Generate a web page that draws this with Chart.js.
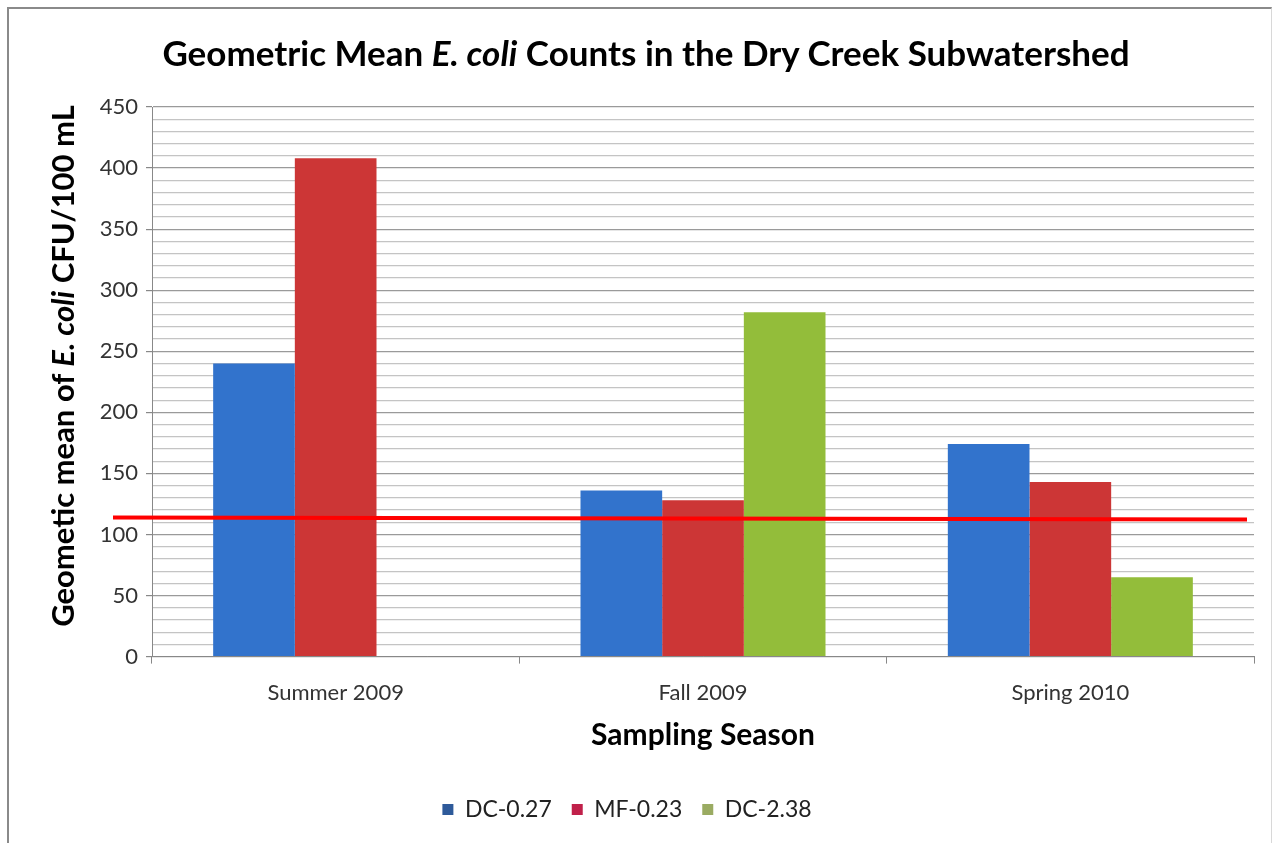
<!DOCTYPE html>
<html>
<head>
<meta charset="utf-8">
<script src="https://cdn.jsdelivr.net/npm/chart.js@4.4.1/dist/chart.umd.min.js"></script>
<style>
  html, body { margin: 0; padding: 0; background: #fff; }
  #wrap { position: relative; width: 1282px; height: 843px; overflow: hidden; background: #fff; }
  #frame { position: absolute; left: 7px; top: 7px; width: 1265px; height: 840px;
           border-left: 2px solid #8a8a8a; border-top: 2px solid #8a8a8a; border-right: 1px solid #d8d8d8; box-sizing: border-box; }
  #title { position: absolute; left: 0; width: 1292px; top: 31px; text-align: center; line-height: 1.2;
           font-family: Lato, "Open Sans", sans-serif; font-weight: bold; font-size: 35px; color: #000; white-space: nowrap; }
  #ytitle { position: absolute; left: 63px; top: 366px; transform: translate(-50%, -50%) rotate(-90deg);
           font-family: Lato, "Open Sans", sans-serif; font-weight: bold; font-size: 31px; color: #000; white-space: nowrap; line-height: 1.2; }
  canvas { position: absolute; left: 0; top: 0; }
</style>
</head>
<body>
<div id="wrap">
  <canvas id="c" width="1282" height="843"></canvas>
  <div id="frame"></div>
  <div id="title">Geometric Mean <i>E. coli</i> Counts in the Dry Creek Subwatershed</div>
  <div id="ytitle">Geometic mean of <i>E. coli</i> CFU/100 mL</div>
</div>
<script>
const categories = ["Summer 2009", "Fall 2009", "Spring 2010"];
const seriesNames = ["DC-0.27", "MF-0.23", "DC-2.38"];
const dc027 = [240, 136, 174];
const mf023 = [408, 128, 143];
const dc238 = [null, 282, 65];
const threshold = 113;
const yTickLabels = [0, 50, 100, 150, 200, 250, 300, 350, 400, 450];

const FONT = 'Lato, "Open Sans", sans-serif';

const thresholdLine = {
  id: 'thresholdLine',
  afterDatasetsDraw(chart) {
    const y = chart.scales.y;
    const area = chart.chartArea;
    const ctx = chart.ctx;
    ctx.save();
    ctx.strokeStyle = '#ff0000';
    ctx.lineWidth = 4;
    ctx.beginPath();
    ctx.moveTo(area.left - 39, y.getPixelForValue(threshold) - 1);
    ctx.lineTo(area.right - 7, y.getPixelForValue(threshold) + 1);
    ctx.stroke();
    ctx.restore();
  }
};

new Chart(document.getElementById('c'), {
  type: 'bar',
  data: {
    labels: categories,
    datasets: [
      { label: seriesNames[0], data: dc027, backgroundColor: '#3273cc', borderWidth: 0 },
      { label: seriesNames[1], data: mf023, backgroundColor: '#cc3636', borderWidth: 0 },
      { label: seriesNames[2], data: dc238, backgroundColor: '#93bd3a', borderWidth: 0 }
    ]
  },
  options: {
    responsive: false,
    animation: false,
    layout: { padding: { left: 0, right: 28, top: 107, bottom: 12 } },
    datasets: { bar: { barPercentage: 1.0, categoryPercentage: 0.667 } },
    plugins: {
      title: { display: false },
      tooltip: { enabled: false },
      legend: {
        position: 'bottom',
        labels: {
          font: { family: FONT, size: 23 },
          color: '#222',
          boxWidth: 11, boxHeight: 11, padding: 20,
          generateLabels(chart) {
            const cols = ['#2e5a9a', '#c0204a', '#9aab62'];
            return chart.data.datasets.map((d, i) => ({
              text: d.label, fillStyle: cols[i], strokeStyle: cols[i], lineWidth: 0, datasetIndex: i, fontColor: '#222'
            }));
          }
        }
      }
    },
    scales: {
      x: {
        grid: { display: true, offset: true, drawOnChartArea: false, drawTicks: true, tickLength: 7, color: '#888' },
        border: { display: true, color: '#888', width: 1 },
        ticks: { font: { family: FONT, size: 22 }, color: '#333', padding: 16 },
        title: { display: true, text: 'Sampling Season', font: { family: FONT, size: 30, weight: 'bold' }, color: '#000', padding: { top: -5, bottom: 25 } }
      },
      y: {
        min: 0, max: 450,
        afterFit(scale) { scale.width = 152; },
        afterBuildTicks(scale) {
          const t = [];
          for (let v = 0; v <= 450; v += 10) t.push({ value: v });
          scale.ticks = t;
        },
        grid: {
          color: ctx => (ctx.tick && ctx.tick.value % 50 === 0) ? '#9a9a9a' : '#c4c4c4',
          tickColor: ctx => (ctx.tick && ctx.tick.value % 50 === 0) ? '#888' : 'rgba(0,0,0,0)',
          lineWidth: 1.2,
          tickLength: 6
        },
        border: { display: true, color: '#888', width: 1 },
        ticks: {
          font: { family: FONT, size: 22 }, color: '#333', padding: 8,
          autoSkip: false,
          callback: v => yTickLabels.includes(v) ? String(v) : ''
        }
      }
    }
  },
  plugins: [thresholdLine]
});
</script>
</body>
</html>
